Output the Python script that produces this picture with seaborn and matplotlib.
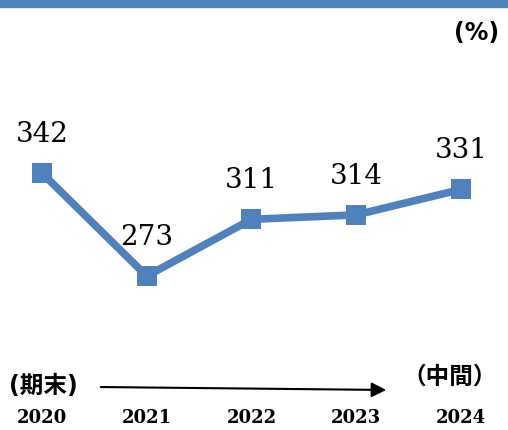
import numpy as np
import matplotlib
matplotlib.use("Agg")
import matplotlib.pyplot as plt
import matplotlib.patches as patches
import pandas as pd
import seaborn as sns

sns.set_theme(style="white")
plt.rcParams['font.family'] = ['DejaVu Sans', 'Noto Sans CJK JP']
plt.rcParams['text.color'] = 'black'

years = ['2020', '2021', '2022', '2023', '2024']
values = [342, 273, 311, 314, 331]
blue = '#4F81BD'

df = pd.DataFrame({'pos': np.arange(len(years)), 'value': values})

fig = plt.figure(figsize=(5.08, 4.30), dpi=100)
ax = fig.add_axes([0, 0, 1, 1])
sns.lineplot(data=df, x='pos', y='value', ax=ax, color=blue, linewidth=5.5,
             marker='s', markersize=14, markeredgewidth=0, markerfacecolor=blue)

ax.set_xlim(-0.401, 4.449)
ax.set_ylim(169.9, 457.9)
ax.axis('off')

# value labels above markers
for i, v in enumerate(values):
    ax.annotate(str(v), (i, v), xytext=(0, 18), textcoords='offset points',
                ha='center', va='bottom', fontsize=20, family='DejaVu Serif',
                color='black')

# year labels along the bottom
for i, y in enumerate(years):
    ax.text(i, 0.027, y, transform=ax.get_xaxis_transform(), ha='center',
            va='center', fontsize=13, fontweight='bold', family='DejaVu Serif',
            color='black')

# period notes and arrow
fig.text(9 / 508, 1 - 386 / 430, '(期末)', ha='left', va='center', fontsize=17,
         fontweight='bold', family=['DejaVu Sans', 'Noto Sans CJK JP'], color='black')
fig.text(450 / 508, 1 - 377 / 430, '（中間）', ha='center', va='center', fontsize=17,
         fontweight='bold', family=['Noto Sans CJK JP', 'DejaVu Sans'], color='black')
ax.annotate('', xy=(389 / 508, 1 - 390 / 430), xytext=(98 / 508, 1 - 387 / 430),
            xycoords='figure fraction', textcoords='figure fraction',
            arrowprops=dict(arrowstyle='-|>', color='black', lw=1.5,
                            mutation_scale=22))

# unit label
fig.text(477 / 508, 1 - 33 / 430, '(%)', ha='center', va='center', fontsize=17,
         fontweight='bold', family=['DejaVu Sans', 'Noto Sans CJK JP'], color='black')

# blue band along the top
fig.patches.append(patches.Rectangle((0, 1 - 7 / 430), 1, 7 / 430,
                                     transform=fig.transFigure, color=blue,
                                     zorder=0))

fig.savefig('out.png', dpi=100)
